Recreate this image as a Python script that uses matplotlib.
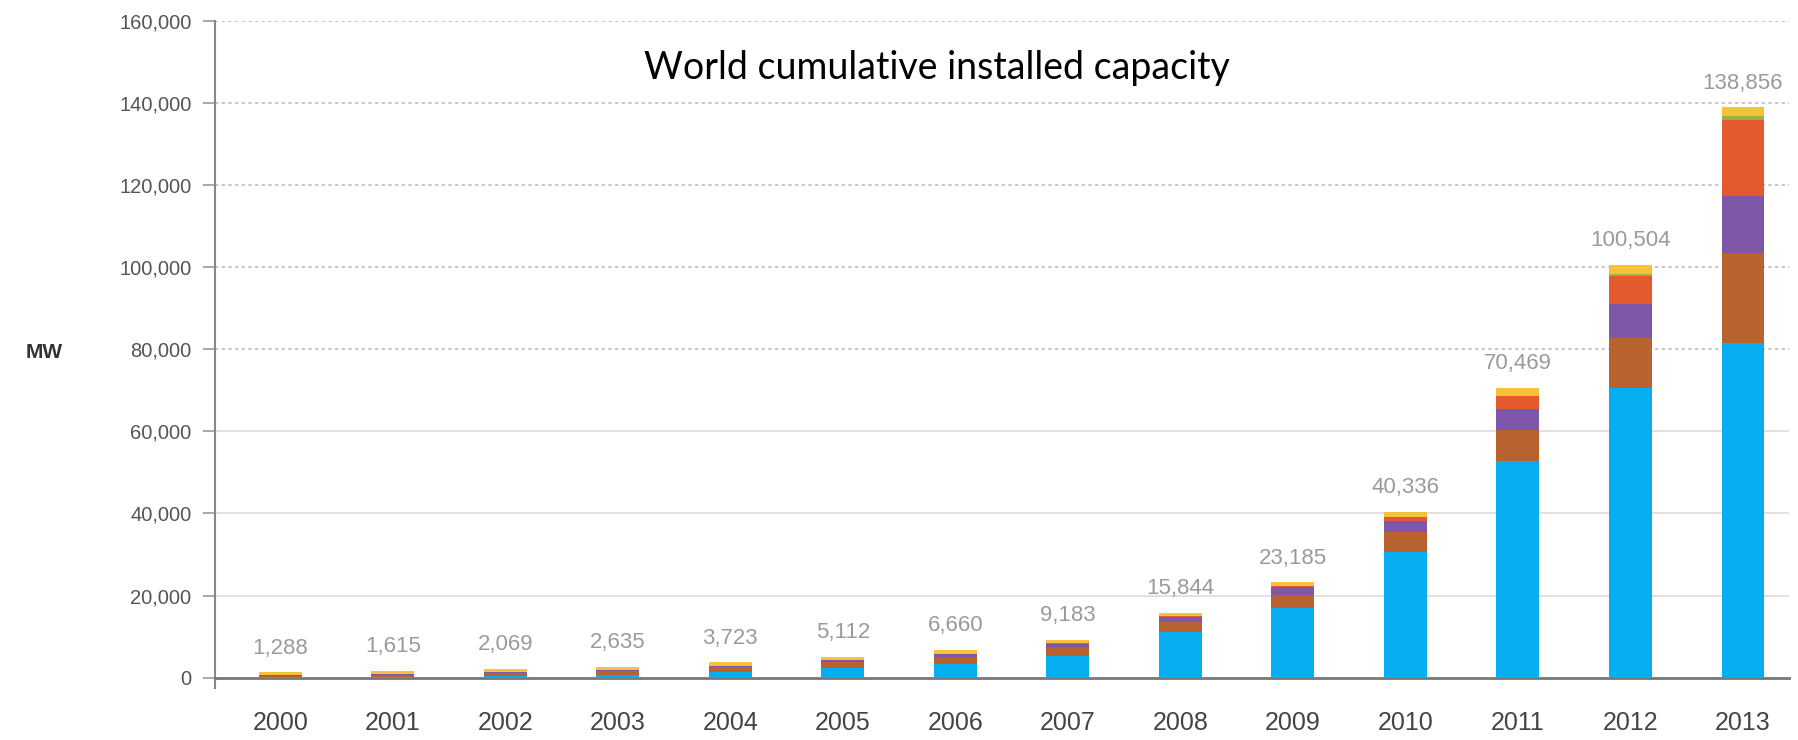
import matplotlib
matplotlib.use("Agg")
import matplotlib.pyplot as plt
import numpy as np

years = ["2000", "2001", "2002", "2003", "2004", "2005", "2006",
         "2007", "2008", "2009", "2010", "2011", "2012", "2013"]
totals = [1288, 1615, 2069, 2635, 3723, 5112, 6660,
          9183, 15844, 23185, 40336, 70469, 100504, 138856]

# regional breakdown (MW)
europe = [129, 265, 399, 601, 1306, 2291, 3289, 5312, 11020, 16854, 30505, 52764, 70513, 81488]
apac = [368, 496, 686, 916, 1198, 1502, 1827, 2098, 2628, 3373, 4951, 7513, 12159, 21992]
americas = [146, 177, 222, 287, 379, 496, 645, 856, 1205, 1744, 2820, 5053, 8365, 13727]
china = [19, 24, 42, 52, 62, 70, 80, 100, 140, 300, 800, 3300, 6800, 18600]
mea = [0, 1, 1, 1, 1, 1, 1, 2, 5, 10, 25, 80, 500, 953]
row = [626, 652, 719, 778, 777, 752, 818, 815, 846, 904, 1235, 1759, 2167, 2096]

series = [europe, apac, americas, china, mea, row]
colors = ["#06AEEF", "#B8622F", "#7E57A8", "#E45A2E", "#9DB04D", "#F6C23C"]

plt.rcParams['font.family'] = ['Liberation Sans', 'DejaVu Sans']

fig = plt.figure(figsize=(17.98, 7.4), dpi=100)
ax = fig.add_axes([0.1196, 0.0703, 0.8754, 0.9018])

# spine setup first: set_position resets the tick labels
for s in ["top", "right"]:
    ax.spines[s].set_visible(False)
ax.spines["bottom"].set_position(("data", 0))
ax.spines["left"].set_color("#888888")
ax.spines["left"].set_linewidth(1.5)
ax.spines["left"].set_bounds(-2500, 160000)
ax.spines["bottom"].set_color("#777777")
ax.spines["bottom"].set_linewidth(2)

x = np.arange(len(years))
bottom = np.zeros(len(years))
for vals, c in zip(series, colors):
    ax.bar(x, vals, 0.38, bottom=bottom, color=c, zorder=3)
    bottom += np.array(vals)

for xi, t in zip(x, totals):
    ax.annotate(f"{t:,}", (xi, t), xytext=(0, 10), textcoords="offset points",
                ha="center", va="bottom", fontsize=16, color="#9a9a9a")

# gridlines: solid for the lower part, dotted for the upper part
for yv in [20000, 40000, 60000]:
    ax.axhline(yv, color="#dcdcdc", lw=1.2, zorder=1)
for yv in [80000, 100000, 120000, 140000, 160000]:
    ax.axhline(yv, color="#bdbdbd", lw=1.2, ls=(0, (2, 2)), zorder=1)

ax.set_xlim(-0.58, 13.41)
ax.set_ylim(-2500, 160000)
ax.set_xticks(x)
ax.set_xticklabels(years, fontsize=18, color="#444444")
ax.set_yticks(np.arange(0, 160001, 20000))
ax.set_yticklabels([f"{v:,}" for v in range(0, 160001, 20000)], fontsize=14.5, color="#555555")
ax.tick_params(axis="x", length=0, pad=24)
ax.tick_params(axis="y", length=9, width=1.2, color="#999999", pad=8)

fig.text(44 / 1798, 1 - 353 / 740, "MW", fontsize=15, fontweight="bold",
         color="#333333", ha="center", va="center")
fig.text(937 / 1798, 1 - 68 / 740, "World cumulative installed capacity",
         fontsize=27, color="black", ha="center", va="center", family=["Lato", "DejaVu Sans"])

fig.savefig("out.png", dpi=100)
